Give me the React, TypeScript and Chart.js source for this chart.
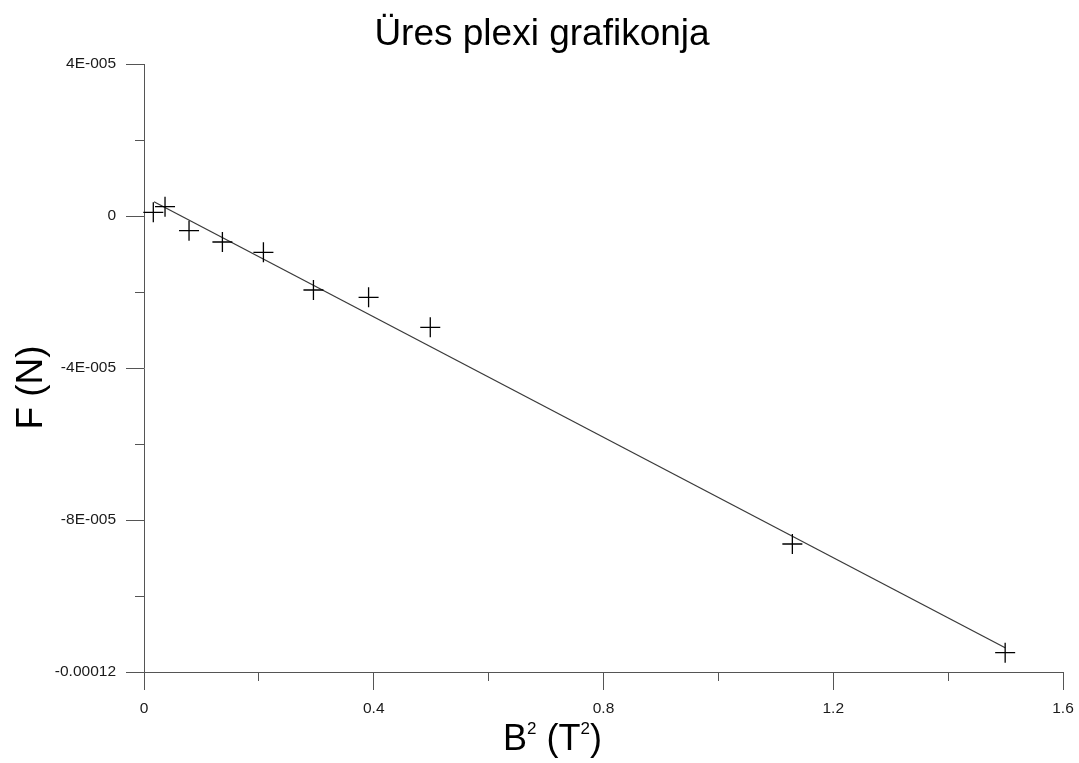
import React, { useEffect, useRef } from 'react';
import { Chart, registerables } from 'chart.js';

Chart.register(...registerables);

// ---- data ----
const bSquared = [0.0162, 0.0366, 0.0784, 0.1365, 0.2079, 0.295, 0.391, 0.4984, 1.1288, 1.4993];
const force = [9.7e-7, 2.45e-6, -3.87e-6, -6.84e-6, -9.55e-6, -1.947e-5, -2.139e-5, -2.929e-5, -8.632e-5, -1.1492e-4];
const fitX = [0.0174, 1.4993];
const fitY = [3.76e-6, -1.1361e-4];

const xTickValues = [0, 0.4, 0.8, 1.2, 1.6];
const xTickLabels = ['0', '0.4', '0.8', '1.2', '1.6'];
const yTickValues = [-1.2e-4, -8e-5, -4e-5, 0, 4e-5];
const yTickLabels = ['-0.00012', '-8E-005', '-4E-005', '0', '4E-005'];

const titleText = 'Üres plexi grafikonja';
const yTitleText = 'F (N)';
const xTitleParts = [
  { t: 'B', sup: false },
  { t: '2', sup: true },
  { t: ' (T', sup: false },
  { t: '2', sup: true },
  { t: ')', sup: false },
];

const FONT = "'Liberation Sans', Arial, sans-serif";
const AXIS_COLOR = '#555555';
const LABEL_COLOR = '#1a1a1a';

function labelFor(values: number[], labels: string[], v: number): string {
  for (let i = 0; i < values.length; i++) {
    if (Math.abs(values[i] - v) < Math.abs(values[1] - values[0]) * 1e-6) return labels[i];
  }
  return '';
}

const titlesPlugin = {
  id: 'customTitles',
  afterDraw(chart: any) {
    const ctx = chart.ctx as CanvasRenderingContext2D;
    ctx.save();
    ctx.fillStyle = '#000';
    ctx.textBaseline = 'alphabetic';
    // main title
    ctx.font = `37px ${FONT}`;
    ctx.textAlign = 'center';
    ctx.fillText(titleText, 542, 45);
    // y axis title
    ctx.save();
    ctx.translate(42, 387.5);
    ctx.rotate(-Math.PI / 2);
    ctx.font = `37px ${FONT}`;
    ctx.textAlign = 'center';
    ctx.fillText(yTitleText, 0, 0);
    ctx.restore();
    // x axis title with superscripts
    ctx.textAlign = 'left';
    let x = 503;
    for (const p of xTitleParts) {
      if (p.sup) {
        ctx.font = `17px ${FONT}`;
        ctx.fillText(p.t, x, 734);
      } else {
        ctx.font = `36px ${FONT}`;
        ctx.fillText(p.t, x, 750);
      }
      x += ctx.measureText(p.t).width;
    }
    ctx.restore();
  },
};

export default function App() {
  const canvasRef = useRef<HTMLCanvasElement | null>(null);

  useEffect(() => {
    const canvas = canvasRef.current;
    if (!canvas) return;
    const tickFont = { family: FONT, size: 15.5 };
    const noPad = (s: any) => { s.paddingLeft = 0; s.paddingRight = 0; s.paddingTop = 0; s.paddingBottom = 0; };
    const chart = new Chart(canvas, {
      type: 'scatter',
      data: {
        datasets: [
          {
            label: 'measured',
            data: bSquared.map((b, i) => ({ x: b, y: force[i] })),
            showLine: false,
            pointStyle: 'cross',
            pointRadius: 10,
            pointBorderWidth: 1.3,
            borderColor: '#000',
            backgroundColor: '#000',
            xAxisID: 'x',
            yAxisID: 'y',
            clip: false,
          },
          {
            label: 'fit',
            data: fitX.map((b, i) => ({ x: b, y: fitY[i] })),
            showLine: true,
            pointRadius: 0,
            borderColor: '#3a3a3a',
            borderWidth: 1.3,
            xAxisID: 'x',
            yAxisID: 'y',
            clip: false,
          },
        ],
      },
      options: {
        responsive: false,
        animation: false,
        devicePixelRatio: 1,
        layout: { padding: { top: 64, right: 16, bottom: 0, left: 0 } },
        plugins: {
          legend: { display: false },
          tooltip: { enabled: false },
          title: { display: false },
        },
        scales: {
          x: {
            type: 'linear',
            position: 'bottom',
            weight: 1,
            min: 0,
            max: 1.6,
            afterFit: (s: any) => { s.height = 91; noPad(s); },
            afterBuildTicks: (s: any) => { s.ticks = xTickValues.map((v) => ({ value: v })); },
            ticks: {
              font: tickFont,
              color: LABEL_COLOR,
              padding: 9,
              maxRotation: 0,
              autoSkip: false,
              callback: (v: any) => labelFor(xTickValues, xTickLabels, Number(v)),
            },
            grid: { drawOnChartArea: false, tickLength: 18, tickColor: AXIS_COLOR, tickWidth: 1 },
            border: { display: true, color: AXIS_COLOR, width: 1 },
          },
          xMinor: {
            type: 'linear',
            position: 'bottom',
            weight: 0,
            min: 0,
            max: 1.6,
            afterFit: (s: any) => { s.height = 0; noPad(s); },
            ticks: { display: false, stepSize: 0.2, autoSkip: false },
            grid: { drawOnChartArea: false, tickLength: 9, tickColor: AXIS_COLOR, tickWidth: 1 },
            border: { display: false },
          },
          y: {
            type: 'linear',
            position: 'left',
            weight: 1,
            min: -1.2e-4,
            max: 4e-5,
            afterFit: (s: any) => { s.width = 144; noPad(s); },
            afterBuildTicks: (s: any) => { s.ticks = yTickValues.map((v) => ({ value: v })); },
            ticks: {
              font: tickFont,
              color: LABEL_COLOR,
              padding: 10,
              autoSkip: false,
              callback: (v: any) => labelFor(yTickValues, yTickLabels, Number(v)),
            },
            grid: { drawOnChartArea: false, tickLength: 18, tickColor: AXIS_COLOR, tickWidth: 1 },
            border: { display: true, color: AXIS_COLOR, width: 1 },
          },
          yMinor: {
            type: 'linear',
            position: 'left',
            weight: 0,
            min: -1.2e-4,
            max: 4e-5,
            afterFit: (s: any) => { s.width = 0; noPad(s); },
            ticks: { display: false, stepSize: 2e-5, autoSkip: false },
            grid: { drawOnChartArea: false, tickLength: 9, tickColor: AXIS_COLOR, tickWidth: 1 },
            border: { display: false },
          },
        },
      } as any,
      plugins: [titlesPlugin],
    });
    return () => chart.destroy();
  }, []);

  return (
    <div style={{ position: 'fixed', left: 0, top: 0, width: 1079, height: 763, background: '#fff' }}>
      <canvas ref={canvasRef} width={1079} height={763} style={{ display: 'block', width: 1079, height: 763 }} />
    </div>
  );
}
